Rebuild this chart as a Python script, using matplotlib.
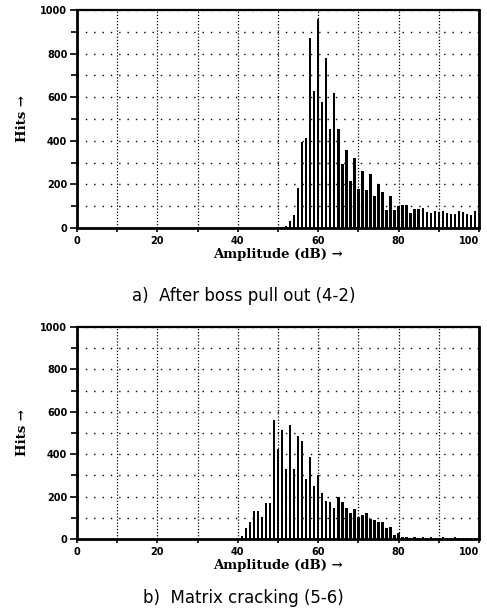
import matplotlib
matplotlib.use("Agg")
import matplotlib.pyplot as plt
import numpy as np

# ---- data ----
amp_a = list(range(50, 100))
hits_a = [3, 5, 10, 30, 60, 182, 396, 412, 872, 627,
          960, 580, 780, 456, 620, 455, 295, 360, 216, 323,
          181, 262, 176, 250, 145, 204, 165, 84, 145, 81,
          100, 104, 104, 70, 85, 88, 90, 75, 67, 80,
          72, 78, 70, 63, 66, 78, 72, 62, 60, 76]

amp_b = list(range(40, 100))
hits_b = [5, 12, 50, 80, 132, 130, 104, 172, 170, 562,
          425, 512, 332, 540, 332, 484, 464, 282, 385, 248,
          300, 215, 178, 176, 145, 200, 176, 145, 125, 140,
          105, 115, 125, 94, 88, 78, 82, 50, 56, 19,
          28, 10, 8, 6, 9, 7, 10, 6, 8, 5,
          7, 9, 6, 5, 8, 6, 7, 5, 6, 4]

x_ticks = [0, 20, 40, 60, 80, 100]
y_ticks = [0, 200, 400, 600, 800, 1000]
titles = ["a)  After boss pull out (4-2)", "b)  Matrix cracking (5-6)"]
x_label = "Amplitude (dB) \u2192"
y_label = "Hits \u2192"

W, H = 487, 610
fig = plt.figure(figsize=(W / 100, H / 100), dpi=100)

axes_px = [(77, 10, 479, 228), (77, 327, 479, 539)]
title_y = [296, 598]
datasets = [(amp_a, hits_a), (amp_b, hits_b)]

for (l, t, r, b), (xs, ys), ttl, ty in zip(axes_px, datasets, titles, title_y):
    ax = fig.add_axes([l / W, 1 - b / H, (r - l) / W, (b - t) / H])
    ax.bar(xs, ys, width=0.6, color="black", zorder=3)
    ax.set_xlim(0, 100)
    ax.set_ylim(0, 1000)
    ax.set_xticks(x_ticks)
    ax.set_xticks(np.arange(10, 100, 20), minor=True)
    ax.set_yticks(y_ticks)
    ax.set_yticks(np.arange(100, 1000, 200), minor=True)
    xl = ax.set_xticklabels([str(v) for v in x_ticks], fontsize=7, fontweight="bold",
                            family="DejaVu Sans")
    xl[-1].set_horizontalalignment("right")
    ax.set_yticklabels([str(v) for v in y_ticks], fontsize=7, fontweight="bold",
                       family="DejaVu Sans")
    ax.tick_params(axis="both", which="both", direction="out", width=1.2, color="black")
    ax.tick_params(axis="y", which="major", length=5, pad=2)
    ax.tick_params(axis="y", which="minor", length=4)
    ax.tick_params(axis="x", which="major", length=3, pad=3)
    ax.tick_params(axis="x", which="minor", length=3)
    # grid
    ax.grid(True, axis="x", which="both", color="black", linestyle=(0, (1, 1.5)),
            linewidth=0.9, zorder=1)
    ax.grid(True, axis="y", which="both", color="black", linestyle=(0, (1, 5)),
            linewidth=1.0, zorder=1)
    for side in ["left", "bottom", "right"]:
        ax.spines[side].set_linewidth(2.0)
    ax.spines["top"].set_linewidth(1.6)
    ax.set_xlabel(x_label, fontsize=9.5, fontweight="bold", family="DejaVu Serif",
                  labelpad=1)
    ax.set_ylabel(y_label, fontsize=9.5, fontweight="bold", family="DejaVu Serif",
                  labelpad=8)
    fig.text(0.5, 1 - ty / H, ttl, ha="center", va="center", fontsize=12,
             family="DejaVu Sans")

fig.savefig("out.png", dpi=100, facecolor="white")
